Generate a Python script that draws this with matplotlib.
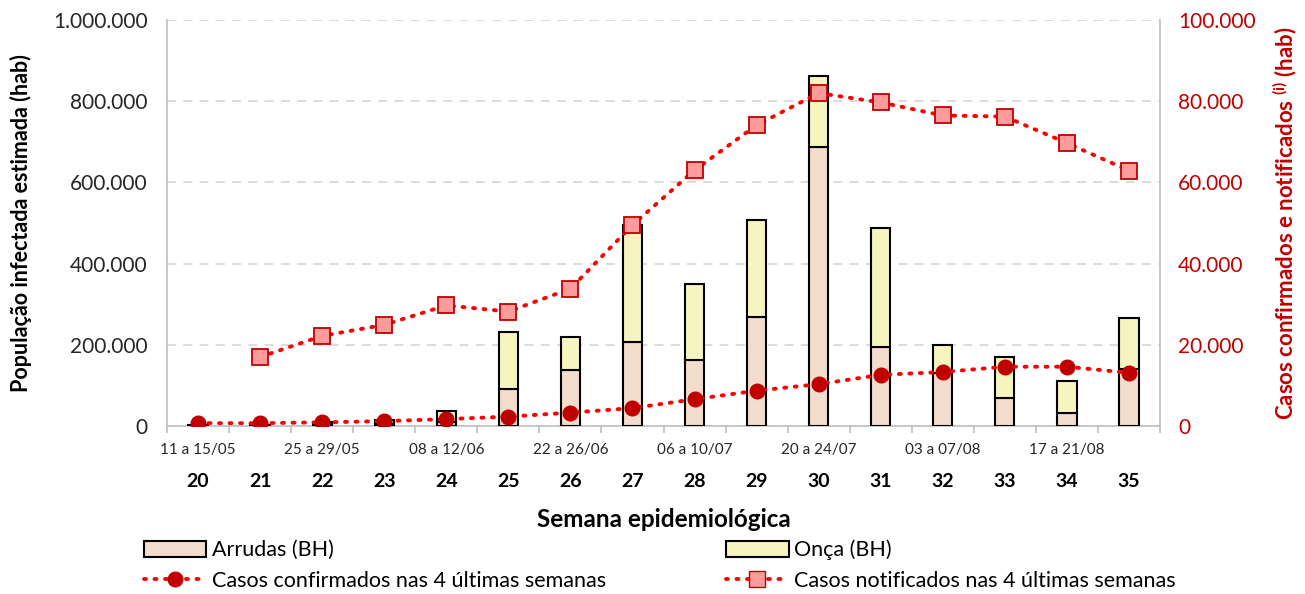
import matplotlib
matplotlib.use('Agg')
import matplotlib.pyplot as plt
import numpy as np
from matplotlib.ticker import FuncFormatter, MultipleLocator
from matplotlib.patches import Patch
from matplotlib.lines import Line2D

plt.rcParams['font.family'] = ['Lato', 'DejaVu Sans']
plt.rcParams['mathtext.fontset'] = 'custom'
plt.rcParams['mathtext.rm'] = 'Lato'
plt.rcParams['mathtext.bf'] = 'Lato:bold'

semanas = [20, 21, 22, 23, 24, 25, 26, 27, 28, 29, 30, 31, 32, 33, 34, 35]
datas = {20: '11 a 15/05', 22: '25 a 29/05', 24: '08 a 12/06', 26: '22 a 26/06',
         28: '06 a 10/07', 30: '20 a 24/07', 32: '03 a 07/08', 34: '17 a 21/08'}
arrudas = [1000, 1000, 5000, 5000, 10000, 91000, 138000, 208000, 162000, 269000,
           686000, 194000, 130000, 68000, 33000, 141000]
total = [2000, 2000, 10000, 15000, 37000, 231000, 220000, 495000, 350000, 507000,
         862000, 487000, 200000, 171000, 112000, 265000]
onca = [t - a for t, a in zip(total, arrudas)]
confirmados = [700, 700, 900, 1200, 1700, 2300, 3300, 4400, 6600, 8700,
               10300, 12600, 13300, 14600, 14600, 13100]
notificados = [np.nan, 17000, 22200, 24900, 29700, 28200, 33800, 49500, 63000, 74100,
               82000, 79700, 76500, 76200, 69700, 62900]

cor_arr = '#F2DCCB'
cor_onca = '#F6F5BF'
vermelho = '#C00000'
cinza = '#BFBFBF'

fig = plt.figure(figsize=(13.05, 5.94), dpi=100)
ax = fig.add_axes([167/1305, 1 - 426/594, (1160-167)/1305, (426-20)/594])
x = np.arange(len(semanas))

ax.bar(x, arrudas, width=0.31, color=cor_arr, edgecolor='black', linewidth=1.5, zorder=3)
ax.bar(x, onca, bottom=arrudas, width=0.31, color=cor_onca, edgecolor='black', linewidth=1.5, zorder=3)

ax.set_ylim(0, 1000000)
ax.set_xlim(-0.5, len(semanas) - 0.5)
ax.yaxis.set_major_locator(MultipleLocator(200000))
fmt = FuncFormatter(lambda v, p: f'{int(v):,}'.replace(',', '.'))
ax.yaxis.set_major_formatter(fmt)
ax.grid(axis='y', color='#D9D9D9', linestyle=(0, (5, 4)), linewidth=1.3, zorder=0)
ax.tick_params(axis='y', length=0, labelsize=15, pad=14, labelcolor='#262626')
ax.set_xticks(np.arange(len(semanas) + 1) - 0.5)
ax.set_xticklabels([])
ax.tick_params(axis='x', length=5, color=cinza, width=1.2)
ax.spines['top'].set_visible(False)
for s in ['left', 'bottom', 'right']:
    ax.spines[s].set_color(cinza)
    ax.spines[s].set_linewidth(1.2)
ax.set_ylabel('População infectada estimada (hab)', fontsize=15.5, fontweight='bold', labelpad=15)

for i, s in enumerate(semanas):
    if s in datas:
        ax.annotate(datas[s], xy=(i, 0), xycoords=('data', 'axes fraction'),
                    xytext=(0, -17), textcoords='offset points', ha='center', va='center',
                    fontsize=11, color='#262626')
    ax.annotate(str(s), xy=(i, 0), xycoords=('data', 'axes fraction'),
                xytext=(0, -40), textcoords='offset points', ha='center', va='center',
                fontsize=14, fontweight='bold')
ax.annotate('Semana epidemiológica', xy=(0.5, 0), xycoords='axes fraction',
            xytext=(0, -67), textcoords='offset points', ha='center', va='center',
            fontsize=17.5, fontweight='bold')

ax2 = ax.twinx()
ax2.set_ylim(0, 100000)
ax2.yaxis.set_major_locator(MultipleLocator(20000))
ax2.yaxis.set_major_formatter(fmt)
ax2.tick_params(axis='y', length=0, labelsize=15, labelcolor=vermelho, pad=13)
for s in ax2.spines.values():
    s.set_visible(False)
ax2.plot(x, confirmados, color='#FF0000', linestyle=(0, (0.5, 2.2)), linewidth=2.8,
         dash_capstyle='round', marker='o', markersize=10.5, markerfacecolor=vermelho,
         markeredgecolor=vermelho, zorder=4)
ax2.plot(x, notificados, color='#FF0000', linestyle=(0, (0.5, 2.2)), linewidth=2.8,
         dash_capstyle='round', marker='s', markersize=11, markerfacecolor='#FF9B9B',
         markeredgecolor=vermelho, markeredgewidth=1.3, zorder=4)
ax2.set_ylabel(r'Casos confirmados e notificados $^{\mathbf{(i)}}$ (hab)', fontsize=16,
               fontweight='bold', color=vermelho, labelpad=10)

h_arr = Patch(facecolor=cor_arr, edgecolor='black', linewidth=1.5)
h_onca = Patch(facecolor=cor_onca, edgecolor='black', linewidth=1.5)
h_conf = Line2D([], [], color='#FF0000', linestyle=(0, (0.5, 2.2)), linewidth=2.8,
                dash_capstyle='round', marker='o', markersize=10.5, markerfacecolor=vermelho,
                markeredgecolor=vermelho)
h_not = Line2D([], [], color='#FF0000', linestyle=(0, (0.5, 2.2)), linewidth=2.8,
               dash_capstyle='round', marker='s', markersize=11, markerfacecolor='#FF9B9B',
               markeredgecolor=vermelho)
fig.legend([h_arr, h_conf, h_onca, h_not],
           ['Arrudas (BH)', 'Casos confirmados nas 4 últimas semanas',
            'Onça (BH)', 'Casos notificados nas 4 últimas semanas'],
           ncol=2, loc='upper left', bbox_to_anchor=(133/1305, 1 - 529/594),
           frameon=False, fontsize=15.5, handlelength=2.9, handleheight=0.75,
           labelspacing=0.5, columnspacing=5.6, handletextpad=0.25, borderpad=0)

fig.savefig('out.png', dpi=100)
